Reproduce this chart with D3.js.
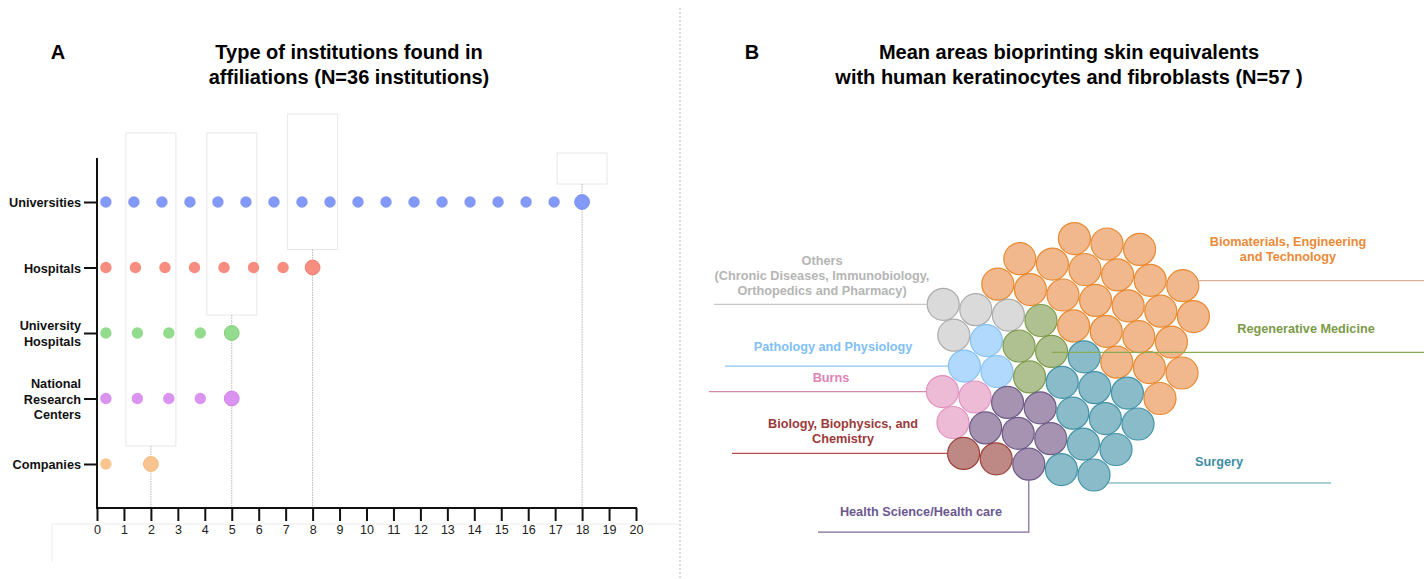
<!DOCTYPE html>
<html>
<head>
<meta charset="utf-8">
<script src="https://cdn.jsdelivr.net/npm/d3@7"></script>
<style>
  body { margin: 0; background: #fff; }
  svg { display: block; font-family: "Liberation Sans", Arial, sans-serif; }
</style>
</head>
<body>
<div id="chart"></div>
<script>
// ---------- data: panel A
const institutions = ["Universities", "Hospitals", "University Hospitals", "National Research Centers", "Companies"];
const institutionCounts = [18, 8, 5, 5, 2];
const institutionLabelLines = [["Universities"], ["Hospitals"], ["University", "Hospitals"], ["National", "Research", "Centers"], ["Companies"]];
const xTicks = d3.range(0, 21);

// ---------- data: panel B
const areas = ["Biomaterials, Engineering and Technology", "Regenerative Medicine", "Surgery",
  "Others (Chronic Diseases, Immunobiology, Orthopedics and Pharmacy)", "Pathology and Physiology",
  "Burns", "Health Science/Health care", "Biology, Biophysics, and Chemistry"];
const areaCounts = [24, 4, 11, 4, 3, 3, 6, 2];
const areaLabelLines = [["Biomaterials, Engineering", "and Technology"], ["Regenerative Medicine"], ["Surgery"],
  ["Others", "(Chronic Diseases, Immunobiology,", "Orthopedics and Pharmacy)"], ["Pathology and Physiology"],
  ["Burns"], ["Health Science/Health care"], ["Biology, Biophysics, and", "Chemistry"]];

// ---------- styles
const dotColors = ["#8399f7", "#f78d80", "#93db8d", "#db93f0", "#f9c48f"];
const dotStroke = ["#7b90f0", "#ef7f73", "#7fcf78", "#d084e8", "#f4b87c"];
const areaFill = ["#efb282", "#a9bc88", "#7fb5c3", "#d7d7d7", "#aad6fd", "#ebb5d2", "#9d8aaa", "#b97f7a"];
const areaStroke = ["#e98a31", "#7e9b4c", "#4392a8", "#acacac", "#86c2f5", "#e291bf", "#6d5a87", "#9d403a"];
const areaText = ["#ea8a36", "#7c9a48", "#3e8da5", "#b5b5b5", "#7fc0f7", "#e083b5", "#6b5890", "#9b3a3a"];
const areaLine = ["#dcae94", "#8aaa55", "#5b9db1", "#c8c8c8", "#8ec5ee", "#d48ab0", "#7d6a9a", "#b84c4c"];

const width = 1427, height = 579;
const svg = d3.select("#chart").append("svg")
  .attr("width", width)
  .attr("height", height);

// dotted divider between the panels
svg.append("line")
  .attr("x1", 680).attr("x2", 680).attr("y1", 8).attr("y2", height)
  .attr("stroke", "#b8b8b8").attr("stroke-dasharray", "2,2");

// ================= Panel A =================
svg.append("text").attr("x", 58).attr("y", 59).attr("text-anchor", "middle")
  .attr("font-size", 20).attr("font-weight", "bold").text("A");
svg.append("text").attr("text-anchor", "middle").attr("font-size", 20).attr("font-weight", "bold")
  .selectAll("tspan").data(["Type of institutions found in", "affiliations (N=36 institutions)"]).join("tspan")
  .attr("x", 349).attr("y", (d, i) => 59 + i * 25).text(d => d);

let x = d3.scaleLinear().domain([0, 20]).range([97, 636]);
let y = d3.scalePoint().domain(institutions).range([202, 464]);
const axisY = 508;

// faint empty callout boxes above the last dot of each row (leftovers of the original figure)
const calloutTop = { 18: 153, 8: 114, 5: 133, 2: 133 };
const maxima = [];
institutions.forEach((c, i) => {
  const v = institutionCounts[i];
  if (!maxima.find(m => m.v === v)) maxima.push({ v, bottom: y(c) - 18 });
});
svg.append("g").selectAll("rect").data(maxima).join("rect")
  .attr("x", d => x(d.v) - 25).attr("width", 50)
  .attr("y", d => calloutTop[d.v]).attr("height", d => d.bottom - calloutTop[d.v])
  .attr("fill", "none").attr("stroke", "#e8e8e8").attr("stroke-width", 1);
svg.append("path")
  .attr("d", `M52,${height - 17}V524H${680}`)
  .attr("fill", "none").attr("stroke", "#ececec");

// drop lines from the last dot to the axis
svg.append("g").selectAll("line").data(maxima).join("line")
  .attr("x1", d => x(d.v)).attr("x2", d => x(d.v))
  .attr("y1", d => d.bottom).attr("y2", axisY)
  .attr("stroke", "#b9b9b9").attr("stroke-width", 1).attr("stroke-dasharray", "1.5,1");

// Add X axis
const gx = svg.append("g")
  .attr("transform", `translate(0,${axisY})`)
  .call(d3.axisBottom(x).tickValues(xTicks).tickSize(13).tickPadding(4).tickSizeOuter(0));
gx.select(".domain").remove();
gx.selectAll(".tick line").attr("stroke", "#111").attr("stroke-width", 2);
gx.selectAll(".tick text").attr("font-size", 12.5).attr("fill", "#222").attr("font-family", "Liberation Sans, Arial, sans-serif");

// Add Y axis
const gy = svg.append("g")
  .attr("transform", "translate(97,0)")
  .call(d3.axisLeft(y).tickSize(13).tickFormat("").tickSizeOuter(0));
gy.select(".domain").remove();
gy.selectAll(".tick line").attr("stroke", "#111").attr("stroke-width", 2);
gy.selectAll(".tick").append("text")
  .attr("fill", "#111").attr("font-size", 12.7).attr("font-weight", "bold")
  .attr("text-anchor", "end").attr("font-family", "Liberation Sans, Arial, sans-serif")
  .each(function (d) {
    const lines = institutionLabelLines[institutions.indexOf(d)];
    d3.select(this).selectAll("tspan").data(lines).join("tspan")
      .attr("x", -16)
      .attr("y", (l, i) => (i - (lines.length - 1) / 2) * 15.3 + 4.5)
      .text(l => l);
  });

// axis lines
svg.append("line").attr("x1", 96).attr("x2", 637).attr("y1", axisY).attr("y2", axisY)
  .attr("stroke", "#111").attr("stroke-width", 2);
svg.append("line").attr("x1", 97).attr("x2", 97).attr("y1", 158).attr("y2", axisY + 1)
  .attr("stroke", "#111").attr("stroke-width", 2);

// Add the dots: one per institution, spread evenly up to the count
const dots = [];
institutions.forEach((c, ci) => {
  const n = institutionCounts[ci];
  d3.range(n).forEach(i => {
    dots.push({ ci, v: n === 1 ? n : 0.33 + i * (n - 0.33) / (n - 1), last: i === n - 1 });
  });
});
svg.append("g").selectAll("circle").data(dots).join("circle")
  .attr("cx", d => x(d.v))
  .attr("cy", d => y(institutions[d.ci]))
  .attr("r", d => d.last ? 7.4 : 5.7)
  .attr("fill", d => dotColors[d.ci])
  .attr("stroke", d => d.last ? dotStroke[d.ci] : "none")
  .attr("stroke-width", 1);

// ================= Panel B =================
svg.append("text").attr("x", 752).attr("y", 59).attr("text-anchor", "middle")
  .attr("font-size", 20).attr("font-weight", "bold").text("B");
svg.append("text").attr("text-anchor", "middle").attr("font-size", 20).attr("font-weight", "bold")
  .selectAll("tspan").data(["Mean areas bioprinting skin equivalents", "with human keratinocytes and fibroblasts (N=57 )"]).join("tspan")
  .attr("x", 1069).attr("y", (d, i) => 59 + i * 25).text(d => d);

// bubbles sit on a slightly tilted hex lattice; each area grabs the free cells
// closest to its anchor, smallest areas first (layout only)
const lat = { ox: 1063, oy: 295, ax: 32.6, ay: 5.4, bx: 10.6, by: 30.9 };
const cellXY = (m, n) => [lat.ox + m * lat.ax + n * lat.bx, lat.oy + m * lat.ay + n * lat.by];
const anchorsMN = [[0.6, 0.9], [-1.5, 2], [-0.6, 4], [-3.1, 1.3], [-10 / 3, 8 / 3], [-14 / 3, 13 / 3], [-17 / 6, 29 / 6], [-4.5, 6]];
const r = 16;

let cells = [];
for (let m = -8; m <= 8; m++) {
  for (let n = -5; n <= 10; n++) {
    const [cx, cy] = cellXY(m, n);
    cells.push({ m, n, x: cx, y: cy, ai: -1 });
  }
}
const order = d3.range(areas.length).sort((p, q) => areaCounts[p] - areaCounts[q] || p - q);
order.forEach(ai => {
  const [ax, ay] = cellXY(anchorsMN[ai][0], anchorsMN[ai][1]);
  const dist = c => (c.x - ax) ** 2 + (c.y - ay) ** 2;
  cells.filter(c => c.ai < 0)
    .sort((c1, c2) => dist(c1) - dist(c2))
    .slice(0, areaCounts[ai])
    .forEach(c => { c.ai = ai; });
});
const nodes = cells.filter(c => c.ai >= 0);

svg.append("g").selectAll("circle").data(nodes).join("circle")
  .attr("cx", d => d.x).attr("cy", d => d.y).attr("r", r)
  .attr("fill", d => areaFill[d.ai]).attr("fill-opacity", 0.92)
  .attr("stroke", d => areaStroke[d.ai]).attr("stroke-width", 1.2);

// leader lines and labels
const pick = (ai, f) => d3.greatest(nodes.filter(n => n.ai === ai), f);
const labelSpec = [
  { side: "right", pick: n => n.x - n.y, dy: -5, end: 1424, tx: 1288, base: [-35, -20] },
  { side: "center", pick: n => n.x, dy: 1, end: 1424, tx: 1306, base: [-19] },
  { side: "right", pick: n => n.y, dy: 8, end: 1331, tx: 1219, base: [-17] },
  { side: "left", pick: n => -n.x, dy: 0, end: 714, tx: 822, base: [-39, -24, -9] },
  { side: "left", pick: n => -n.x, dy: 0, end: 725, tx: 833, base: [-15] },
  { side: "left", pick: n => -n.x, dy: 0, end: 709, tx: 831, base: [-10] },
  { side: "down", pick: n => n.y, dy: 0, end: 818, tx: 921, base: [-16] },
  { side: "left", pick: n => -n.x, dy: 0, end: 732, tx: 843, base: [-25, -10] }
];
const gl = svg.append("g");
labelSpec.forEach((s, ai) => {
  const n = pick(ai, s.pick);
  let lineY, d;
  const off = Math.sqrt(r * r - s.dy * s.dy);
  if (s.side === "right") {
    lineY = n.y + s.dy;
    d = `M${n.x + off},${lineY}H${s.end}`;
  } else if (s.side === "center") {
    lineY = n.y + s.dy;
    d = `M${n.x},${lineY}H${s.end}`;
  } else if (s.side === "left") {
    lineY = n.y;
    d = `M${s.end},${lineY}H${n.x - r}`;
  } else {
    lineY = n.y + r + 52;
    d = `M${n.x},${n.y + r}V${lineY}H${s.end}`;
  }
  gl.append("path").attr("d", d).attr("fill", "none")
    .attr("stroke", areaLine[ai]).attr("stroke-width", 1.2);
  gl.append("text").attr("text-anchor", "middle").attr("font-size", 12.7).attr("font-weight", "bold")
    .attr("fill", areaText[ai])
    .selectAll("tspan").data(areaLabelLines[ai]).join("tspan")
    .attr("x", s.tx).attr("y", (t, i) => lineY + s.base[i]).text(t => t);
});
</script>
</body>
</html>
